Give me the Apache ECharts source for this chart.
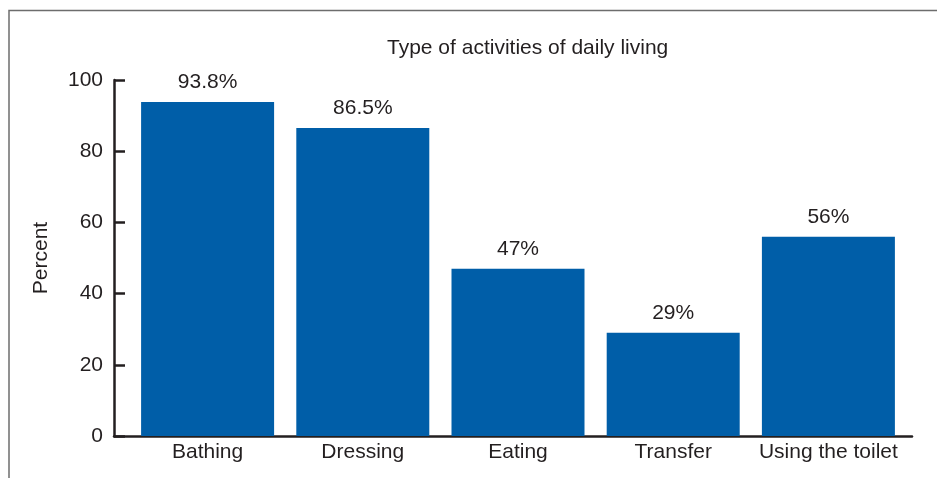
<!DOCTYPE html>
<html>
<head>
<meta charset="utf-8">
<script src="https://cdn.jsdelivr.net/npm/echarts@6/dist/echarts.min.js"></script>
<style>
html,body{margin:0;padding:0;background:#fff;}
#chart{width:937px;height:478px;}
</style>
</head>
<body>
<div id="chart"></div>
<script>
const categories = ["Bathing", "Dressing", "Eating", "Transfer", "Using the toilet"];
const percentValues = [93.8, 86.5, 47, 29, 56];
const valueLabels = ["93.8%", "86.5%", "47%", "29%", "56%"];
const yTicks = [0, 20, 40, 60, 80, 100];

const textColor = '#231f20';
const font = 'Liberation Sans, Arial, Helvetica, sans-serif';
const fs = 21;

const chart = echarts.init(document.getElementById('chart'), null, {renderer: 'canvas'});
chart.setOption({
  animation: false,
  backgroundColor: '#fff',
  textStyle: {fontFamily: font, color: textColor},
  title: {
    text: 'Type of activities of daily living',
    left: 382, top: 33,
    textStyle: {fontSize: fs, fontWeight: 'normal', color: textColor, fontFamily: font}
  },
  graphic: [{
    type: 'rect', silent: true, z: -1,
    shape: {x: 9, y: 10.5, width: 1000, height: 600},
    style: {fill: 'none', stroke: '#6d6d6d', lineWidth: 1.5}
  }],
  grid: [
    {left: 130, right: 31, top: 80, bottom: 42},
    {left: 114, right: 25, top: 80, bottom: 42}
  ],
  xAxis: [
    {
      type: 'category', gridIndex: 0, data: categories,
      axisLine: {show: false}, axisTick: {show: false},
      axisLabel: {fontSize: fs, color: textColor, margin: 6, fontFamily: font, interval: 0}
    },
    {
      type: 'value', gridIndex: 1, min: 0, max: 1,
      axisLine: {show: true, lineStyle: {color: textColor, width: 2.5}},
      axisTick: {show: false}, axisLabel: {show: false}, splitLine: {show: false}
    }
  ],
  yAxis: [
    {
      type: 'value', gridIndex: 0, min: yTicks[0], max: yTicks[yTicks.length - 1],
      show: false
    },
    {
      type: 'value', gridIndex: 1, min: yTicks[0], max: yTicks[yTicks.length - 1], interval: yTicks[1] - yTicks[0],
      name: 'Percent', nameLocation: 'middle', nameGap: 62,
      nameTextStyle: {fontSize: fs, color: textColor, fontFamily: font},
      axisLine: {show: true, lineStyle: {color: textColor, width: 2.5}},
      axisTick: {show: true, inside: true, length: 11, lineStyle: {color: textColor, width: 2.5}},
      axisLabel: {fontSize: fs, color: textColor, margin: 11, fontFamily: font},
      splitLine: {show: false}
    }
  ],
  series: [{
    type: 'bar', xAxisIndex: 0, yAxisIndex: 0,
    data: percentValues,
    barWidth: 133,
    itemStyle: {color: '#005ea8'},
    label: {
      show: true, position: 'top', distance: 9,
      fontSize: fs, color: textColor, fontFamily: font,
      formatter: p => valueLabels[p.dataIndex]
    }
  }]
});
</script>
</body>
</html>
